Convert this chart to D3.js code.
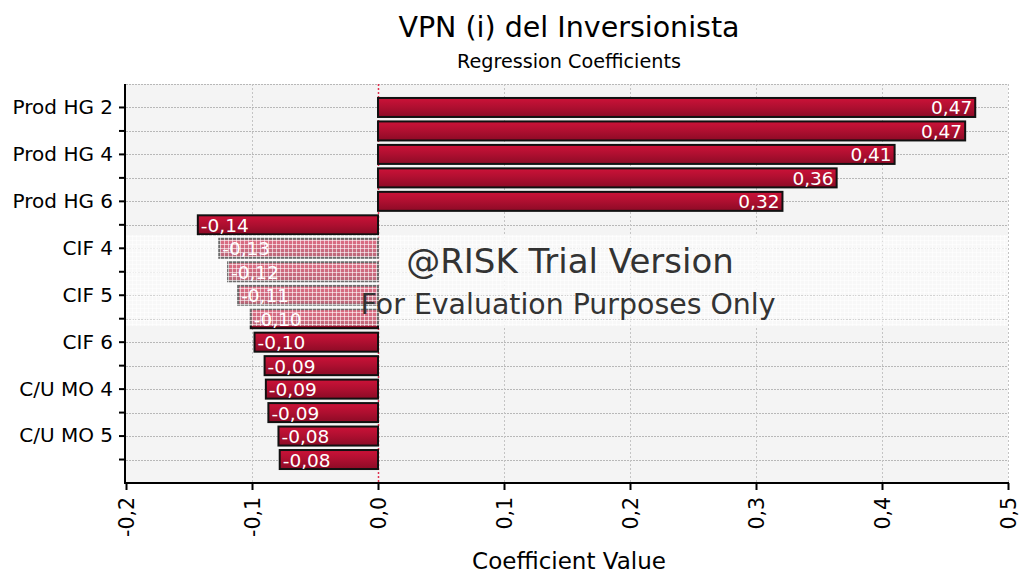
<!DOCTYPE html>
<html>
<head>
<meta charset="utf-8">
<script src="https://cdn.jsdelivr.net/npm/d3@7"></script>
<style>
  body { margin: 0; background: #fff; }
  svg { font-family: "DejaVu Sans", sans-serif; }
</style>
</head>
<body>
<svg width="1020" height="575"></svg>
<script>
"use strict";

var categories = ["Prod HG 2", "Prod HG 3", "Prod HG 4", "Prod HG 5", "Prod HG 6",
  "CIF 3", "CIF 4", "CIF 2", "CIF 5", "CIF 7", "CIF 6",
  "C/U MO 3", "C/U MO 4", "C/U MO 6", "C/U MO 5", "C/U MO 2"];
var coefficients = [0.474, 0.466, 0.41, 0.364, 0.321,
  -0.143, -0.126, -0.119, -0.111, -0.101, -0.098,
  -0.090, -0.089, -0.087, -0.079, -0.078];
var xTicks = [-0.2, -0.1, 0.0, 0.1, 0.2, 0.3, 0.4, 0.5];

var svg = d3.select("svg"),
  plotLeft = 126, plotRight = 1008, plotTop = 84, plotBottom = 483;

var fmt = function (v) { return d3.format(".1f")(v).replace(".", ",").replace("−", "-"); };
var fmtBar = function (v) { return d3.format(".2f")(v).replace(".", ",").replace("−", "-"); };

var x = d3.scaleLinear().domain([-0.2, 0.5]).range([plotLeft, plotRight]);
var y = d3.scaleBand().domain(categories).range([plotTop, plotBottom])
  .paddingInner(0.19).paddingOuter(0.595);

var defs = svg.append("defs");
var grad = defs.append("linearGradient")
  .attr("id", "bar_grad").attr("x1", 0).attr("y1", 0).attr("x2", 0).attr("y2", 1);
grad.append("stop").attr("offset", "0%").attr("stop-color", "#cc1238");
grad.append("stop").attr("offset", "50%").attr("stop-color", "#ae0f30");
grad.append("stop").attr("offset", "100%").attr("stop-color", "#8c0b26");

var pat = defs.append("pattern")
  .attr("id", "wash").attr("width", 4).attr("height", 4)
  .attr("patternUnits", "userSpaceOnUse");
pat.append("rect").attr("width", 4).attr("height", 4).attr("fill", "#fff").attr("fill-opacity", 0.38);
pat.append("path").attr("d", "M0,0.5H4M0.5,0V4")
  .attr("stroke", "#fff").attr("stroke-opacity", 0.6).attr("stroke-width", 1);

// plot background
svg.append("rect")
  .attr("x", plotLeft).attr("y", plotTop)
  .attr("width", plotRight - plotLeft).attr("height", plotBottom - plotTop)
  .attr("fill", "#f4f4f4");

// horizontal grid
var hLines = [plotTop].concat(categories.map(function (c) { return y(c) + y.bandwidth() / 2; }));
svg.append("g").selectAll("line")
  .data(hLines)
  .enter().append("line")
  .attr("x1", plotLeft).attr("x2", plotRight)
  .attr("y1", function (d) { return Math.round(d) + 0.5; })
  .attr("y2", function (d) { return Math.round(d) + 0.5; })
  .attr("stroke", "#b8b8b8").attr("stroke-dasharray", "2,1");

// vertical grid
svg.append("g").selectAll("line")
  .data(xTicks.filter(function (t) { return t !== -0.2; }))
  .enter().append("line")
  .attr("x1", function (d) { return Math.round(x(d)) + 0.5; })
  .attr("x2", function (d) { return Math.round(x(d)) + 0.5; })
  .attr("y1", plotTop).attr("y2", plotBottom)
  .attr("stroke", function (d) { return d === 0 ? "#e0304f" : "#c4c4c4"; })
  .attr("stroke-width", function (d) { return d === 0 ? 1.5 : 1; })
  .attr("stroke-dasharray", "2,2");

// bars
var bars = svg.append("g").selectAll("g")
  .data(categories.map(function (c, i) { return { name: c, value: coefficients[i] }; }))
  .enter().append("g");

bars.append("rect")
  .attr("x", function (d) { return x(Math.min(0, d.value)); })
  .attr("y", function (d) { return y(d.name); })
  .attr("width", function (d) { return Math.abs(x(d.value) - x(0)); })
  .attr("height", y.bandwidth())
  .attr("fill", "url(#bar_grad)")
  .attr("stroke", "#111").attr("stroke-width", 2);

bars.append("text")
  .attr("x", function (d) { return d.value > 0 ? x(d.value) - 3 : x(d.value) + 3; })
  .attr("y", function (d) { return y(d.name) + y.bandwidth() / 2 + 7; })
  .attr("text-anchor", function (d) { return d.value > 0 ? "end" : "start"; })
  .attr("fill", "#fff").attr("font-size", 18.5)
  .text(function (d) { return fmtBar(d.value); });

// watermark wash
svg.append("rect")
  .attr("x", plotLeft).attr("y", 235)
  .attr("width", plotRight - plotLeft).attr("height", 91)
  .attr("fill", "url(#wash)");

svg.append("text")
  .attr("x", 570).attr("y", 273)
  .attr("text-anchor", "middle").attr("font-size", 34)
  .attr("fill", "#333")
  .text("@RISK Trial Version");
svg.append("text")
  .attr("x", 568).attr("y", 314)
  .attr("text-anchor", "middle").attr("font-size", 28.4)
  .attr("fill", "#333")
  .text("For Evaluation Purposes Only");

// axes
var yAxis = d3.axisLeft(y).tickSize(6).tickPadding(6)
  .tickFormat(function (d, i) { return i % 2 === 0 ? d : ""; });
var gy = svg.append("g").attr("transform", "translate(" + (plotLeft - 1) + ",0)").call(yAxis);
gy.select(".domain").remove();
gy.append("line").attr("x1", 0).attr("x2", 0).attr("y1", plotTop).attr("y2", plotBottom + 1)
  .attr("stroke", "#000").attr("stroke-width", 2);
gy.selectAll(".tick line").attr("stroke", "#000").attr("stroke-width", 2);
gy.selectAll(".tick text").attr("font-size", 20).attr("fill", "#000")
  .attr("font-family", "DejaVu Sans");

var xAxis = d3.axisBottom(x).tickValues(xTicks).tickSize(7).tickFormat(fmt);
var gx = svg.append("g").attr("transform", "translate(0," + plotBottom + ")").call(xAxis);
gx.select(".domain").remove();
gx.append("line").attr("x1", plotLeft - 2).attr("x2", plotRight + 1).attr("y1", 0).attr("y2", 0)
  .attr("stroke", "#000").attr("stroke-width", 2);
gx.selectAll(".tick line").attr("stroke", "#000").attr("stroke-width", 2);
gx.selectAll(".tick text")
  .attr("font-size", 20.5).attr("fill", "#000").attr("font-family", "DejaVu Sans")
  .attr("transform", "rotate(-90)")
  .attr("text-anchor", "end")
  .attr("dy", "0.35em").attr("x", -14).attr("y", 0);

// titles
svg.append("text")
  .attr("x", 569).attr("y", 37).attr("text-anchor", "middle")
  .attr("font-size", 28.5).attr("fill", "#000")
  .text("VPN (i) del Inversionista");
svg.append("text")
  .attr("x", 569).attr("y", 68).attr("text-anchor", "middle")
  .attr("font-size", 19.2).attr("fill", "#000")
  .text("Regression Coefficients");
svg.append("text")
  .attr("x", 569).attr("y", 569).attr("text-anchor", "middle")
  .attr("font-size", 23).attr("fill", "#000")
  .text("Coefficient Value");
</script>
</body>
</html>
